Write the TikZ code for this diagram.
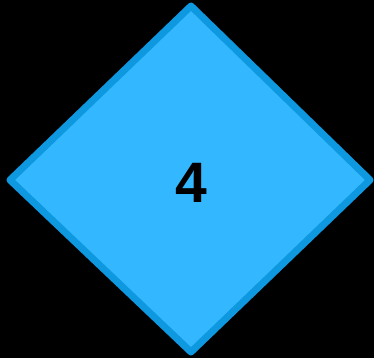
\documentclass[tikz,border=0pt]{standalone}
\usepackage{fontspec}
\setmainfont{Liberation Sans}
\definecolor{dfill}{RGB}{51,183,255}
\definecolor{dline}{RGB}{14,152,224}
\begin{document}
\begin{tikzpicture}[x=1pt,y=-1pt,
  diabox/.style={fill=dfill,draw=dline,line width=7pt,line join=round},
  lbl/.style={font=\fontsize{57}{60}\selectfont\bfseries,text=black,inner sep=0pt}]
\fill[black] (0,0) rectangle (374,358);
\useasboundingbox (0,0) rectangle (374,358);
\coordinate (t) at (191,6);
\coordinate (l) at (10,180);
\coordinate (r) at (370,180);
\coordinate (b) at (191,352);
\draw[diabox] (t) -- (r) -- (b) -- (l) -- cycle;
\node[lbl] (n) at (191,183) {4};
\end{tikzpicture}
\end{document}
